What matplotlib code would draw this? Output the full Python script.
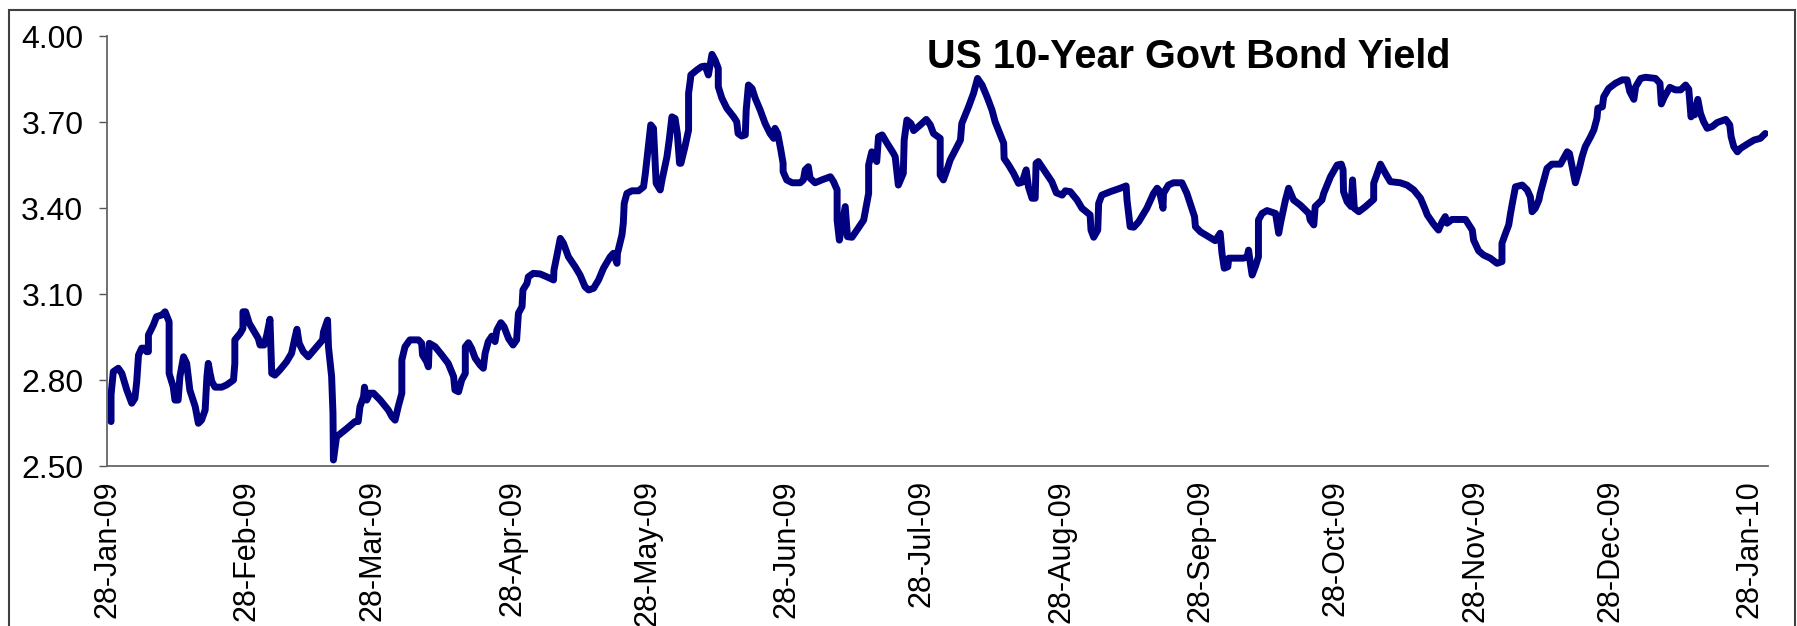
import numpy as np
import datetime as dt
from matplotlib import pyplot as plt
import matplotlib.dates as mdates
from matplotlib.patches import Rectangle

plt.rcParams['font.family'] = ['Liberation Sans', 'DejaVu Sans']

# =============================================================================
# Data: yield, days counted from 28-Jan-09
# =============================================================================
start_date = dt.datetime(2009, 1, 28)

days = [0.9, 0.9, 1.4, 2.5, 3.3, 4.4, 5.5, 6.2, 6.6, 7.0, 7.7, 8.4, 8.8, 9.2, 9.2,
        10.3, 11.0, 12.2, 12.9, 13.8, 13.8, 14.7, 15.1, 15.8, 16.2, 17.0, 17.7, 18.4,
        19.6, 20.3, 21.0, 21.8, 22.2, 22.5, 22.9, 23.3, 24.0, 25.5, 26.6, 28.1, 28.4,
        28.4, 29.6, 30.2, 30.2, 30.8, 31.6, 32.5, 33.6, 34.0, 34.9, 35.5, 36.2, 36.4,
        36.6, 37.3, 38.4, 39.9, 41.0, 41.8, 42.2, 42.7, 43.6, 44.7, 46.6, 47.9, 48.1,
        49.0, 49.2, 49.9, 50.2, 50.3, 51.0, 53.3, 55.1, 55.8, 56.2, 57.0, 57.2, 57.7,
        58.4, 59.2, 60.7, 62.5, 63.3, 64.0, 64.7, 65.5, 65.5, 66.2, 67.3, 69.2, 69.9,
        70.1, 71.0, 71.4, 71.6, 72.9, 74.4, 75.8, 77.0, 77.3, 78.1, 78.8, 79.6, 79.6,
        80.3, 81.0, 81.8, 82.9, 83.6, 84.0, 84.7, 85.5, 86.2, 86.6, 87.5, 88.2, 89.2,
        90.2, 91.0, 91.4, 92.2, 92.4, 93.3, 93.6, 94.7, 96.2, 97.7, 99.2, 99.3, 99.9,
        100.7, 101.4, 102.5, 104.0, 105.1, 106.2, 107.0, 108.1, 109.2, 110.3, 111.8,
        112.5, 113.3, 113.4, 114.4, 114.7, 114.9, 115.5, 116.6, 118.1, 119.2, 119.6,
        120.8, 121.4, 122.0, 122.9, 123.3, 124.4, 124.9, 125.5, 126.2, 126.7, 127.2,
        127.5, 128.4, 129.2, 129.2, 129.6, 129.7, 131.0, 132.1, 132.9, 133.6, 134.4,
        135.1, 135.8, 135.8, 136.6, 137.7, 139.2, 139.9, 140.2, 141.0, 141.8, 142.0,
        142.5, 143.3, 144.0, 145.1, 146.2, 147.3, 148.1, 148.4, 149.0, 149.7, 150.2,
        150.2, 151.0, 152.2, 154.0, 154.7, 155.1, 155.8, 156.2, 157.3, 158.8, 160.7,
        161.4, 162.2, 162.2, 162.7, 163.6, 164.0, 164.5, 165.5, 166.6, 168.1, 169.2,
        169.2, 169.9, 171.0, 171.4, 172.2, 173.3, 174.7, 175.1, 175.8, 176.9, 177.1,
        177.7, 178.6, 179.2, 180.7, 182.0, 182.9, 183.6, 185.1, 185.1, 185.8, 186.6,
        187.3, 189.6, 189.9, 191.4, 192.5, 193.4, 194.4, 195.5, 196.6, 197.3, 199.2,
        199.3, 200.3, 201.4, 202.5, 203.3, 204.2, 204.7, 205.5, 206.2, 206.4, 206.9,
        208.4, 209.9, 210.9, 212.2, 212.9, 214.0, 215.5, 216.6, 218.4, 218.6, 219.2,
        220.1, 220.3, 221.0, 222.9, 225.1, 226.4, 226.6, 227.3, 228.1, 229.2, 231.0,
        232.5, 233.3, 233.8, 234.6, 234.7, 235.8, 236.9, 238.8, 239.9, 241.0, 241.6,
        241.8, 242.9, 244.7, 246.2, 247.3, 247.7, 248.2, 249.0, 249.2, 252.5, 253.3,
        253.6, 254.0, 254.4, 255.1, 255.8, 255.8, 256.6, 257.7, 259.6, 260.3, 260.7,
        261.8, 262.5, 263.6, 265.1, 267.0, 267.3, 268.1, 268.4, 269.9, 270.3, 271.8,
        273.3, 274.2, 274.6, 274.7, 275.5, 276.4, 276.7, 277.1, 278.1, 279.6, 281.4,
        281.4, 282.2, 282.9, 284.0, 285.1, 287.3, 288.8, 290.3, 291.8, 292.9, 293.3,
        294.7, 295.8, 296.6, 297.3, 297.7, 298.8, 301.8, 303.3, 303.6, 304.7, 305.8,
        307.3, 308.8, 309.9, 309.9, 310.7, 311.4, 311.8, 312.2, 312.9, 314.4, 315.5,
        316.2, 316.6, 317.3, 318.1, 318.4, 319.2, 319.9, 321.0, 322.9, 323.6, 324.4,
        324.9, 325.5, 326.2, 327.0, 327.7, 328.4, 329.6, 330.3, 331.0, 331.2, 332.2,
        332.5, 333.6, 335.1, 336.6, 337.7, 338.3, 339.2, 339.6, 340.7, 341.8, 344.0,
        345.0, 345.3, 346.0, 347.2, 348.4, 349.6, 350.7, 351.4, 351.9, 352.4, 352.7,
        353.4, 354.0, 354.7, 355.5, 356.6, 357.7, 359.6, 360.5, 360.8, 361.4, 362.2,
        362.9, 364.4, 365.9, 367.3, 368.4]

yields = [2.655, 2.748, 2.829, 2.841, 2.823, 2.765, 2.719, 2.736, 2.794, 2.887, 2.911,
          2.911, 2.899, 2.899, 2.957, 2.992, 3.021, 3.027, 3.038, 3.003, 2.823, 2.777,
          2.730, 2.730, 2.812, 2.881, 2.858, 2.765, 2.707, 2.649, 2.660, 2.695, 2.812,
          2.858, 2.823, 2.794, 2.775, 2.775, 2.783, 2.800, 2.858, 2.940, 2.963, 2.980,
          3.038, 3.038, 2.998, 2.974, 2.945, 2.922, 2.922, 2.957, 3.012, 2.916, 2.823,
          2.817, 2.835, 2.864, 2.893, 2.951, 2.977, 2.928, 2.899, 2.881, 2.916, 2.940,
          2.968, 3.009, 2.916, 2.812, 2.684, 2.521, 2.602, 2.631, 2.655, 2.655, 2.707,
          2.742, 2.775, 2.730, 2.754, 2.754, 2.730, 2.695, 2.672, 2.660, 2.707, 2.754,
          2.870, 2.916, 2.940, 2.940, 2.928, 2.887, 2.864, 2.846, 2.928, 2.916, 2.887,
          2.858, 2.812, 2.765, 2.759, 2.800, 2.823, 2.916, 2.930, 2.910, 2.876, 2.852,
          2.841, 2.893, 2.934, 2.953, 2.934, 2.974, 3.000, 2.986, 2.945, 2.922, 2.940,
          3.033, 3.056, 3.114, 3.137, 3.160, 3.172, 3.170, 3.160, 3.149, 3.184, 3.230,
          3.294, 3.277, 3.230, 3.195, 3.166, 3.125, 3.114, 3.120, 3.149, 3.190, 3.230,
          3.242, 3.207, 3.242, 3.306, 3.347, 3.416, 3.451, 3.460, 3.460, 3.474, 3.521,
          3.690, 3.678, 3.486, 3.463, 3.498, 3.579, 3.637, 3.718, 3.712, 3.660, 3.556,
          3.556, 3.614, 3.672, 3.800, 3.847, 3.864, 3.881, 3.893, 3.895, 3.864, 3.936,
          3.916, 3.887, 3.823, 3.783, 3.748, 3.718, 3.701, 3.660, 3.651, 3.655, 3.742,
          3.829, 3.817, 3.783, 3.742, 3.695, 3.660, 3.643, 3.678, 3.660, 3.602, 3.556,
          3.527, 3.498, 3.488, 3.488, 3.498, 3.533, 3.544, 3.504, 3.488, 3.498, 3.509,
          3.492, 3.463, 3.358, 3.288, 3.370, 3.405, 3.300, 3.298, 3.323, 3.358, 3.451,
          3.550, 3.596, 3.562, 3.649, 3.655, 3.626, 3.591, 3.579, 3.480, 3.521, 3.637,
          3.707, 3.695, 3.670, 3.690, 3.709, 3.690, 3.660, 3.643, 3.515, 3.498, 3.533,
          3.567, 3.637, 3.695, 3.753, 3.800, 3.852, 3.829, 3.788, 3.742, 3.701, 3.626,
          3.573, 3.550, 3.521, 3.486, 3.490, 3.533, 3.474, 3.434, 3.434, 3.556, 3.562,
          3.527, 3.492, 3.453, 3.445, 3.460, 3.457, 3.428, 3.399, 3.376, 3.323, 3.298,
          3.323, 3.416, 3.445, 3.457, 3.469, 3.477, 3.428, 3.335, 3.333, 3.352, 3.399,
          3.451, 3.469, 3.460, 3.399, 3.451, 3.480, 3.488, 3.488, 3.451, 3.399, 3.370,
          3.335, 3.317, 3.300, 3.286, 3.312, 3.242, 3.190, 3.195, 3.225, 3.225, 3.230,
          3.253, 3.207, 3.166, 3.195, 3.230, 3.358, 3.381, 3.391, 3.381, 3.312, 3.347,
          3.428, 3.469, 3.428, 3.410, 3.381, 3.358, 3.341, 3.405, 3.428, 3.451, 3.509,
          3.550, 3.553, 3.533, 3.457, 3.422, 3.405, 3.498, 3.399, 3.387, 3.405, 3.430,
          3.486, 3.521, 3.553, 3.521, 3.492, 3.488, 3.480, 3.463, 3.434, 3.393, 3.376,
          3.344, 3.323, 3.352, 3.370, 3.347, 3.360, 3.360, 3.323, 3.288, 3.251, 3.236,
          3.225, 3.207, 3.213, 3.277, 3.312, 3.341, 3.381, 3.416, 3.474, 3.480, 3.463,
          3.439, 3.387, 3.399, 3.428, 3.451, 3.498, 3.538, 3.553, 3.553, 3.573, 3.596,
          3.590, 3.544, 3.488, 3.533, 3.579, 3.614, 3.649, 3.672, 3.713, 3.748, 3.753,
          3.788, 3.817, 3.835, 3.847, 3.847, 3.806, 3.779, 3.823, 3.852, 3.856, 3.852,
          3.835, 3.763, 3.788, 3.821, 3.812, 3.812, 3.829, 3.814, 3.718, 3.742, 3.725,
          3.779, 3.730, 3.701, 3.678, 3.684, 3.698, 3.709, 3.690, 3.649, 3.614, 3.596,
          3.608, 3.623, 3.637, 3.643, 3.660]

y_ticks = [2.50, 2.80, 3.10, 3.40, 3.70, 4.00]
title = 'US 10-Year Govt Bond Yield'

# =============================================================================
# Plot
# =============================================================================
W, H = 1797, 626
fig = plt.figure(figsize=(W / 100, H / 100), dpi=100)
ax = fig.add_axes([107 / W, 1 - 466 / H, (1768 - 107) / W, (466 - 36) / H])

x0 = mdates.date2num(start_date)
x = x0 + np.array(days)
ax.plot(x, yields, color='#000080', lw=5, solid_joinstyle='round', solid_capstyle='round')

ax.set_xlim(x0, x0 + 369)
ax.set_ylim(2.5, 4.0)

# ticks on the 28th of every month
month_ticks = [mdates.date2num(dt.datetime(2009 + (m // 12), m % 12 + 1, 28)) for m in range(0, 13)]
ax.set_xticks(month_ticks)
ax.xaxis.set_major_formatter(mdates.DateFormatter('%d-%b-%y'))
ax.set_yticks(y_ticks)
ax.set_yticklabels(['%.2f' % v for v in y_ticks])

ax.tick_params(axis='x', length=0, pad=10, labelsize=22, labelrotation=90)
ax.tick_params(axis='y', length=6, width=1, color='#555555', pad=11, labelsize=23)

for side in ['top', 'right']:
    ax.spines[side].set_visible(False)
for side in ['left', 'bottom']:
    ax.spines[side].set_color('#666666')
    ax.spines[side].set_linewidth(1.3)

fig.text(1189 / W, 1 - 68 / H, title, ha='center', va='baseline',
         fontsize=28.5, fontweight='bold')

# outer chart border (bottom edge sits outside the picture)
fig.add_artist(Rectangle((9 / W, -0.1), (1795 - 9) / W, 1.1 - 10 / H,
                         transform=fig.transFigure, fill=False,
                         edgecolor='#404040', lw=1.5, clip_on=False))

fig.savefig('out.png', dpi=100)
